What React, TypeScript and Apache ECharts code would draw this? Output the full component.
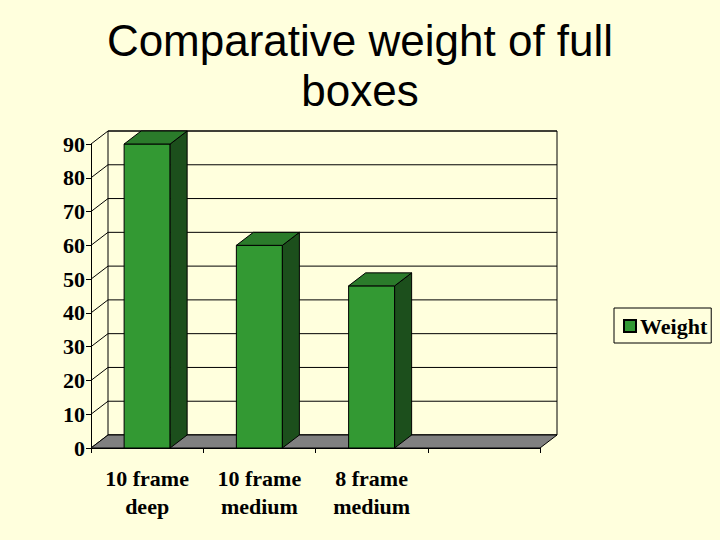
import React, { useEffect, useRef } from "react";
import * as echarts from "echarts";

// chart data
const CATEGORIES = ["10 frame\ndeep", "10 frame\nmedium", "8 frame\nmedium", ""];
const WEIGHTS = [90, 60, 48];
const Y_TICKS = [0, 10, 20, 30, 40, 50, 60, 70, 80, 90];

const BG = "#FFFFDD";
const FRONT = "#339933";
const SIDE = "#1C4F1C";
const TOP = "#2B7B2B";
const FLOOR = "#808080";
const DEPTH = [17, -13];
const SERIF = "'Liberation Serif', 'Times New Roman', serif";

const App: React.FC = () => {
    const containerRef = useRef<HTMLDivElement | null>(null);

    useEffect(() => {
        if (!containerRef.current) return;
        const inst = echarts.init(containerRef.current, undefined, { renderer: "svg" });
        const [dx, dy] = DEPTH;
        const line = { stroke: "#000", lineWidth: 1, fill: "none" };

        const renderFrame = (_params: any, api: any) => {
            const band = api.size([1, 0])[0];
            const left = api.coord([0, 0])[0] - band / 2;
            const right = left + band * CATEGORIES.length;
            const y0 = api.coord([0, 0])[1];
            const yMax = api.coord([0, Y_TICKS[Y_TICKS.length - 1]])[1];
            const children: any[] = [];

            // back wall
            children.push({
                type: "rect",
                shape: { x: left + dx, y: yMax + dy, width: right - left, height: y0 - yMax },
                style: { ...line },
            });
            Y_TICKS.forEach((t) => {
                const y = api.coord([0, t])[1];
                children.push({
                    type: "line",
                    shape: { x1: left + dx, y1: y + dy, x2: right + dx, y2: y + dy },
                    style: { ...line },
                });
                // side wall diagonal
                children.push({
                    type: "line",
                    shape: { x1: left, y1: y, x2: left + dx, y2: y + dy },
                    style: { ...line },
                });
            });
            // floor
            children.push({
                type: "polygon",
                shape: {
                    points: [
                        [left, y0],
                        [right, y0],
                        [right + dx, y0 + dy],
                        [left + dx, y0 + dy],
                    ],
                },
                style: { fill: FLOOR, stroke: "#000", lineWidth: 1 },
            });
            return { type: "group", children };
        };

        const renderBar = (_params: any, api: any) => {
            const x = api.value(0);
            const v = api.value(1);
            const top = api.coord([x, v]);
            const base = api.coord([x, 0]);
            const bw = api.size([1, 0])[0] * 0.41;
            const x1 = top[0] - bw / 2;
            const x2 = top[0] + bw / 2;
            const stroke = { stroke: "#000", lineWidth: 1 };
            return {
                type: "group",
                children: [
                    {
                        type: "rect",
                        shape: { x: x1, y: top[1], width: bw, height: base[1] - top[1] },
                        style: { fill: FRONT, ...stroke },
                    },
                    {
                        type: "polygon",
                        shape: {
                            points: [
                                [x2, top[1]],
                                [x2 + dx, top[1] + dy],
                                [x2 + dx, base[1] + dy],
                                [x2, base[1]],
                            ],
                        },
                        style: { fill: SIDE, ...stroke },
                    },
                    {
                        type: "polygon",
                        shape: {
                            points: [
                                [x1, top[1]],
                                [x1 + dx, top[1] + dy],
                                [x2 + dx, top[1] + dy],
                                [x2, top[1]],
                            ],
                        },
                        style: { fill: TOP, ...stroke },
                    },
                ],
            };
        };

        inst.setOption({
            animation: false,
            backgroundColor: BG,
            title: {
                text: "Comparative weight of full\nboxes",
                left: "center",
                top: 15,
                padding: 0,
                textStyle: {
                    fontFamily: "'Liberation Sans', Arial, sans-serif",
                    fontSize: 44,
                    fontWeight: "normal",
                    lineHeight: 50,
                    color: "#000",
                },
            },
            legend: {
                data: ["Weight"],
                left: 614,
                top: 308,
                orient: "vertical",
                padding: [7, 4, 6, 9],
                borderColor: "#000",
                borderWidth: 1,
                itemWidth: 12,
                itemHeight: 12,
                icon: "rect",
                textStyle: { fontFamily: SERIF, fontWeight: "bold", fontSize: 22, color: "#000", padding: [0, 0, 0, -1] },
            },
            grid: { left: 91, right: 180, top: 144, bottom: 92 },
            xAxis: {
                type: "category",
                data: CATEGORIES,
                axisLine: { show: true, lineStyle: { color: "#000" } },
                axisTick: { show: true, length: 5, lineStyle: { color: "#000" } },
                axisLabel: {
                    margin: 16,
                    interval: 0,
                    fontFamily: SERIF,
                    fontWeight: "bold",
                    fontSize: 22,
                    lineHeight: 28,
                    color: "#000",
                },
                splitLine: { show: false },
            },
            yAxis: {
                type: "value",
                min: 0,
                max: 90,
                interval: 10,
                axisLine: { show: true, lineStyle: { color: "#000" } },
                axisTick: { show: true, length: 5, lineStyle: { color: "#000" } },
                axisLabel: {
                    margin: 6,
                    fontFamily: SERIF,
                    fontWeight: "bold",
                    fontSize: 22,
                    color: "#000",
                },
                splitLine: { show: false },
            },
            series: [
                {
                    name: "frame",
                    type: "custom",
                    z: 1,
                    silent: true,
                    renderItem: renderFrame,
                    data: [[0, 0]],
                },
                {
                    name: "Weight",
                    type: "custom",
                    z: 2,
                    renderItem: renderBar,
                    itemStyle: { color: FRONT, borderColor: "#000", borderWidth: 1 },
                    data: WEIGHTS.map((w, i) => [i, w]),
                },
            ],
        });

        return () => inst.dispose();
    }, []);

    return (
        <div
            ref={containerRef}
            style={{ position: "fixed", left: 0, top: 0, width: 720, height: 540 }}
        />
    );
};

export default App;
